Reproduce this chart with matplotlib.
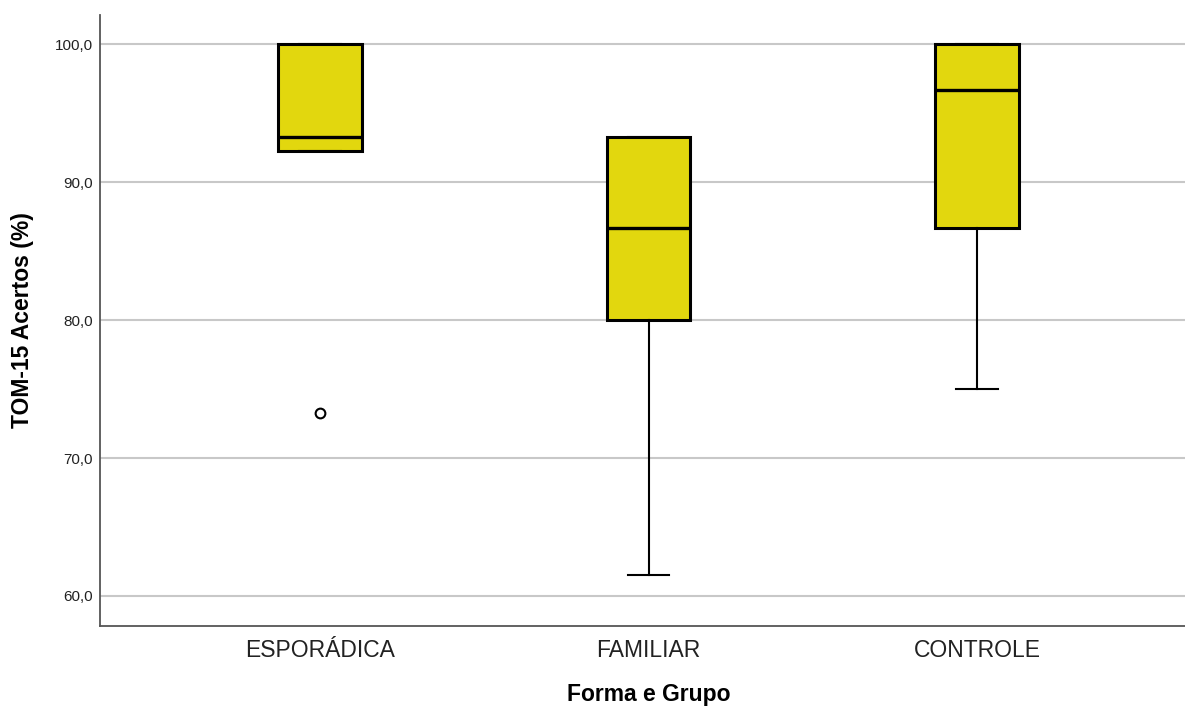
import matplotlib
matplotlib.use("Agg")
import matplotlib.pyplot as plt

categories = ["ESPORÁDICA", "FAMILIAR", "CONTROLE"]
whisker_low = [92.3, 61.5, 75.0]
q1 = [92.3, 80.0, 86.7]
median = [93.3, 86.7, 96.7]
q3 = [100.0, 93.3, 100.0]
whisker_high = [100.0, 93.3, 100.0]
outliers = [[73.3], [], []]
yticks = [60, 70, 80, 90, 100]

plt.rcParams['font.family'] = ['Liberation Sans', 'DejaVu Sans']

fig = plt.figure(figsize=(11.85, 7.07), dpi=100)
ax = fig.add_axes([100/1185, (707-626.3)/707, 1085/1185, (626.3-14.7)/707])

stats = []
for i, c in enumerate(categories):
    stats.append(dict(label=c, whislo=whisker_low[i], q1=q1[i], med=median[i],
                      q3=q3[i], whishi=whisker_high[i], fliers=outliers[i]))

pos = list(range(len(categories)))
ax.bxp(stats, positions=pos, widths=0.253, capwidths=0.125, patch_artist=True,
       boxprops=dict(facecolor="#E2D70E", edgecolor="black", linewidth=2.2),
       medianprops=dict(color="black", linewidth=2.4),
       whiskerprops=dict(color="black", linewidth=1.5),
       capprops=dict(color="black", linewidth=1.5),
       flierprops=dict(marker="o", markerfacecolor="white", markeredgecolor="black",
                       markersize=7, markeredgewidth=1.5),
       zorder=3)

ax.set_xlim((100-320)/328.5, (1185-320)/328.5)
ax.set_ylim(57.8, 102.16)
ax.set_yticks(yticks)
ax.set_yticklabels([f"{v:.1f}".replace(".", ",") for v in yticks], fontsize=11, color="#222222")
ax.set_xticks(pos)
ax.set_xticklabels(categories, fontsize=16.5, color="#222222")
ax.tick_params(axis="both", length=0)
ax.tick_params(axis="y", pad=5)
ax.tick_params(axis="x", pad=9)

ax.yaxis.grid(True, color="#c8c8c8", linewidth=1.5, zorder=0)
ax.set_axisbelow(True)
for s in ["top", "right"]:
    ax.spines[s].set_visible(False)
for s in ["left", "bottom"]:
    ax.spines[s].set_color("#555555")
    ax.spines[s].set_linewidth(1.3)

ax.set_xlabel("Forma e Grupo", fontsize=16.5, fontweight="bold", labelpad=14)
ax.xaxis.set_label_coords((648.5-100)/1085, -0.092)
ax.set_ylabel("TOM-15 Acertos (%)", fontsize=16.5, fontweight="bold")
ax.yaxis.set_label_coords(-66/1085, (626.3-320)/(626.3-14.7))

fig.savefig("out.png", dpi=100)
